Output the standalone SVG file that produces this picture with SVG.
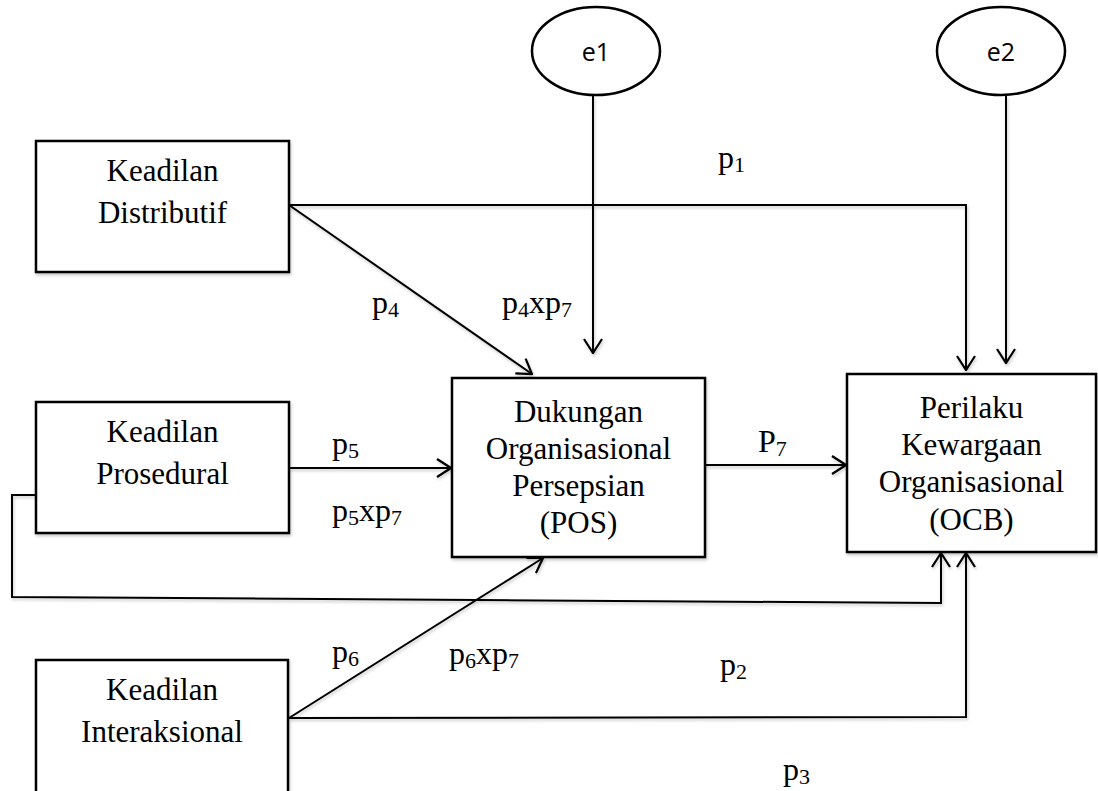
<svg xmlns="http://www.w3.org/2000/svg" width="1098" height="791" viewBox="0 0 1098 791">
<defs>
<marker id="arr" viewBox="0 0 16 20" refX="15" refY="10" markerWidth="16" markerHeight="20" markerUnits="userSpaceOnUse" orient="auto">
<path d="M1,1 L15,10 L1,19" fill="none" stroke="#000" stroke-width="2.2"/>
</marker>
<filter id="sh" x="-5%" y="-5%" width="110%" height="120%">
<feDropShadow dx="1" dy="2" stdDeviation="1.5" flood-color="#000" flood-opacity="0.22"/>
</filter>
</defs>
<style>
.box{fill:#fff;stroke:#000;stroke-width:2.5}
.ell{fill:#fff;stroke:#000;stroke-width:2.5}
.t{font-family:"Liberation Serif","Times New Roman",serif;font-size:31px;fill:#000}
.l{font-size:32px}
.c{text-anchor:middle}
.e{font-family:"Open Sans","Liberation Sans",sans-serif;font-size:25px;fill:#000;text-anchor:middle}
.ln{fill:none;stroke:#000;stroke-width:2;marker-end:url(#arr)}
.s{font-size:22px}
</style>
<rect width="1098" height="791" fill="#fff"/>
<g id="connectors" filter="url(#sh)">
<polyline class="ln" points="289,205 966,205 966,370"/>
<line class="ln" x1="289" y1="205" x2="532" y2="374"/>
<line class="ln" x1="593" y1="96" x2="593" y2="353"/>
<line class="ln" x1="1006" y1="96" x2="1006" y2="363"/>
<line class="ln" x1="289" y1="468" x2="451" y2="468"/>
<line class="ln" x1="705" y1="465" x2="846" y2="465"/>
<polyline class="ln" points="36,495 12,495 12,597 941,603 941,553"/>
<line class="ln" x1="289" y1="718" x2="543" y2="558"/>
<polyline class="ln" points="289,718 966,717 966,553"/>
</g>
<g id="e1"><ellipse class="ell" cx="596" cy="51" rx="64" ry="44"/><text class="e" x="596" y="61">e1</text></g>
<g id="e2"><ellipse class="ell" cx="1001" cy="51" rx="64" ry="44"/><text class="e" x="1001" y="61">e2</text></g>
<g id="distributif"><rect class="box" x="36" y="141" width="253" height="131" filter="url(#sh)"/>
<text class="t c" x="162.5" y="181">Keadilan</text><text class="t c" x="162.5" y="223">Distributif</text></g>
<g id="prosedural"><rect class="box" x="36" y="402" width="253" height="131" filter="url(#sh)"/>
<text class="t c" x="162.5" y="442">Keadilan</text><text class="t c" x="162.5" y="484">Prosedural</text></g>
<g id="interaksional"><rect class="box" x="36" y="660" width="252" height="134" filter="url(#sh)"/>
<text class="t c" x="162" y="700">Keadilan</text><text class="t c" x="162" y="742">Interaksional</text></g>
<g id="pos"><rect class="box" x="452" y="378" width="253" height="179" filter="url(#sh)"/>
<text class="t c" x="578.5" y="422">Dukungan</text><text class="t c" x="578.5" y="459">Organisasional</text>
<text class="t c" x="578.5" y="496">Persepsian</text><text class="t c" x="578.5" y="533">(POS)</text></g>
<g id="ocb"><rect class="box" x="847" y="374" width="249" height="178" filter="url(#sh)"/>
<text class="t c" x="971.5" y="418">Perilaku</text><text class="t c" x="971.5" y="455">Kewargaan</text>
<text class="t c" x="971.5" y="492">Organisasional</text><text class="t c" x="971.5" y="530">(OCB)</text></g>
<g id="labels">
<text class="t l" x="718" y="168">p<tspan class="s" dy="4">1</tspan></text>
<text class="t l" x="372" y="313">p<tspan class="s" dy="4">4</tspan></text>
<text class="t l" x="502" y="313">p<tspan class="s" dy="4">4</tspan><tspan dy="-4">xp</tspan><tspan class="s" dy="4">7</tspan></text>
<text class="t l" x="332" y="454">p<tspan class="s" dy="4">5</tspan></text>
<text class="t l" x="332" y="521">p<tspan class="s" dy="4">5</tspan><tspan dy="-4">xp</tspan><tspan class="s" dy="4">7</tspan></text>
<text class="t l" x="758" y="452">P<tspan class="s" dy="4">7</tspan></text>
<text class="t l" x="720" y="675">p<tspan class="s" dy="4">2</tspan></text>
<text class="t l" x="332" y="662">p<tspan class="s" dy="4">6</tspan></text>
<text class="t l" x="449" y="664">p<tspan class="s" dy="4">6</tspan><tspan dy="-4">xp</tspan><tspan class="s" dy="4">7</tspan></text>
<text class="t l" x="783" y="780">p<tspan class="s" dy="4">3</tspan></text>
</g>
</svg>
